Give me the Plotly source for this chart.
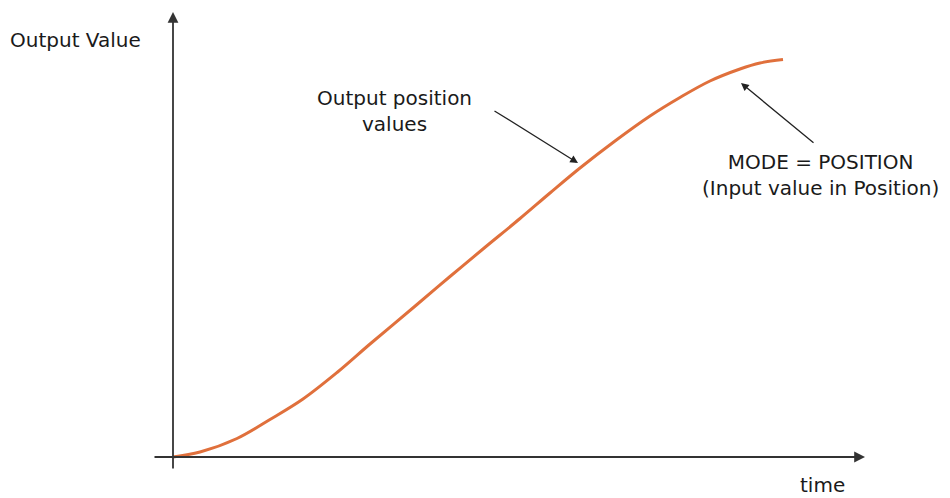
import plotly.graph_objects as go

# Data (time units 0..100, output value units 0..100)
time_vals = [0, 4.43, 10.49, 15.90, 21.31, 26.89, 32.30, 40.00, 45.41, 50.82, 56.89, 61.80,
             66.72, 72.46, 78.20, 83.11, 88.03, 92.95, 96.23, 100]
output_vals = [0, 1.26, 4.65, 9.42, 14.57, 21.23, 28.39, 38.32, 45.35, 52.26, 59.92, 66.33,
               72.61, 79.40, 85.68, 90.33, 94.47, 97.49, 99.00, 99.87]

# page-pixel helpers -> data units (used only for layout placement)
X0, XS = 173.0, 6.1
Y0, YS = 457.0, 3.98
OFF = 8  # default page body margin
def tx(px):
    return (px - X0) / XS
def vy(py):
    return (Y0 - py) / YS

fig = go.Figure()
fig.add_trace(go.Scatter(x=time_vals, y=output_vals, mode="lines",
                         line=dict(color="#E0703C", width=3, shape="spline", smoothing=1.0),
                         hoverinfo="skip", showlegend=False))

font = dict(family="DejaVu Sans, Verdana, sans-serif", size=20, color="#1a1a1a")
ann = []
# axes with arrows
ann.append(dict(x=tx(865), y=0, ax=tx(153), ay=0, xref="x", yref="y", axref="x", ayref="y",
                text="", showarrow=True, arrowhead=2, arrowsize=1.2, arrowwidth=1.8, arrowcolor="#333"))
ann.append(dict(x=0, y=vy(12), ax=0, ay=vy(470), xref="x", yref="y", axref="x", ayref="y",
                text="", showarrow=True, arrowhead=2, arrowsize=1.2, arrowwidth=1.8, arrowcolor="#333"))
# pointer arrows
ann.append(dict(x=tx(578), y=vy(163), ax=tx(493), ay=vy(110), xref="x", yref="y", axref="x", ayref="y",
                text="", showarrow=True, arrowhead=2, arrowsize=1.2, arrowwidth=1.3, arrowcolor="#222"))
ann.append(dict(x=tx(741), y=vy(83), ax=tx(815), ay=vy(144), xref="x", yref="y", axref="x", ayref="y",
                text="", showarrow=True, arrowhead=2, arrowsize=1.2, arrowwidth=1.3, arrowcolor="#222"))
# labels
ann.append(dict(x=tx(8), y=vy(40), xref="x", yref="y", text="Output Value", showarrow=False,
                xanchor="left", yanchor="middle", font=font))
ann.append(dict(x=tx(394), y=vy(111), xref="x", yref="y", text="Output position<br>values", showarrow=False,
                xanchor="center", yanchor="middle", font=font, align="center"))
ann.append(dict(x=tx(820), y=vy(175), xref="x", yref="y", text="MODE = POSITION<br>(Input value in Position)",
                showarrow=False, xanchor="center", yanchor="middle", font=font, align="center"))
ann.append(dict(x=tx(822), y=vy(485), xref="x", yref="y", text="time", showarrow=False,
                xanchor="center", yanchor="middle", font=font))

fig.update_layout(
    width=950 - OFF, height=498 - OFF, margin=dict(l=0, r=0, t=0, b=0),
    paper_bgcolor="white", plot_bgcolor="white",
    xaxis=dict(range=[tx(OFF), tx(950)], visible=False, fixedrange=True),
    yaxis=dict(range=[vy(498), vy(OFF)], visible=False, fixedrange=True),
    annotations=ann,
)
fig.write_html("out.html")
